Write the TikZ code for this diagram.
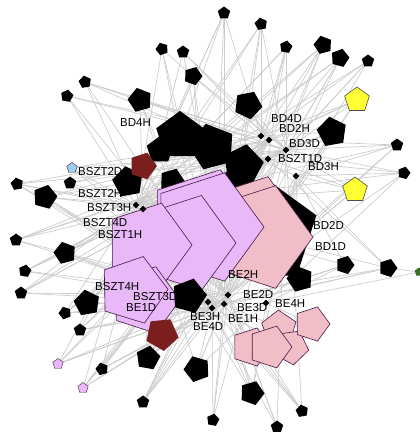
\documentclass[tikz,border=0pt]{standalone}
\usepackage{fontspec}
\setmainfont{Liberation Sans}
\usetikzlibrary{shapes.geometric}

\pgfdeclarelayer{edgelayer}
\pgfsetlayers{edgelayer,main}

\begin{document}
\begin{tikzpicture}[x=1pt, y=-1pt,
  pent/.style={regular polygon, regular polygon sides=5, inner sep=0pt, outer sep=0pt, minimum size=#1},
  blk/.style={pent=#1, fill=black},
  vio/.style={pent=#1, fill=violetcolor, draw=outlinecolor, line width=0.6pt},
  pnk/.style={pent=#1, fill=pinkcolor, draw=outlinecolor, line width=0.6pt},
  dred/.style={pent=#1, fill=darkredcolor},
  yel/.style={pent=#1, fill=yellowcolor, draw=black!70, line width=0.6pt},
  hub/.style={diamond, fill=black, inner sep=0pt, minimum size=7pt},
  lbl/.style={font=\fontsize{11.5}{12}\selectfont, inner sep=0pt, anchor=west},
  link/.style={draw=edgecolor, line width=0.7pt}]

%colours
\definecolor{violetcolor}{RGB}{232,184,248}
\definecolor{pinkcolor}{RGB}{241,189,199}
\definecolor{outlinecolor}{RGB}{70,25,70}
\definecolor{darkredcolor}{RGB}{122,30,30}
\definecolor{yellowcolor}{RGB}{255,255,51}
\definecolor{bluecolor}{RGB}{160,205,235}
\definecolor{greencolor}{RGB}{60,110,40}
\definecolor{edgecolor}{RGB}{204,204,204}

\useasboundingbox (0,0) rectangle (420,432);

%outer nodes
\foreach \n/\x/\y/\s/\r in {p1/224/13/13/0, p2/261/24/13/10, p3/286/47/13/-10, p4/323/45/19/15,
  p5/340/58/19/-15, p6/368/61/13/0, p7/162/49/13/20, p8/183/52/13/0, p9/193/76/19/-20,
  p10/85/82/13/10, p11/67/96/13/-10, p12/140/100/25/15, p13/248/105/29/-25, p14/332/132/31/10,
  p15/397/145/13/0, p16/404/173/13/-15, p17/17/184/13/10, p18/70/183/13/0, p19/45/197/25/-15,
  p20/16/240/13/0, p21/65/253/23/15, p22/25/271/13/-10, p23/21/293/13/0, p24/87/303/27/10,
  p25/65/313/13/20, p26/80/330/13/0, p27/148/358/25/-10, p28/102/369/13/15, p29/143/402/13/0,
  p30/197/369/27/20, p31/213/420/13/-10, p32/252/393/25/-20, p33/302/411/13/10, p34/277/427/13/0,
  p35/345/265/19/-90, p36/388/268/19/-90, p37/300/279/27/15}
  \node[blk=\s, shape border rotate=\r] (\n) at (\x,\y) {};
\node[yel=26] (ye1) at (357,100) {};
\node[yel=26] (ye2) at (355,190) {};
\node[pent=11, fill=bluecolor, draw=outlinecolor, line width=0.4pt] (bl1) at (72,168) {};
\node[vio=11, line width=0.4pt] (vs1) at (58,364) {};
\node[vio=11, line width=0.4pt] (vs2) at (83,388) {};
\node[pent=9, fill=greencolor] (gr1) at (419,272) {};

%central black nodes
\foreach \n/\x/\y/\s/\r in {blA/180/136/50/0, blB/212/147/48/15, blC/243/165/42/-10,
  blD/160/150/28/0, blE/128/182/32/10, blF/172/181/26/-20, blG/232/186/36/0,
  blI/265/232/108/0}
  \node[blk=\s, shape border rotate=\r] (\n) at (\x,\y) {};
\node[dred=28, shape border rotate=-90] (dr1) at (143,166) {};

%pink nodes
\node[pnk=110, shape border rotate=-90] (pkB) at (251,229) {};
\node[pnk=108, shape border rotate=-90] (pkA) at (259,237) {};
\node[pnk=40, shape border rotate=-90] (pkC) at (251,347) {};
\node[pnk=36, shape border rotate=-70] (pkE) at (279,328) {};
\node[pnk=36, shape border rotate=-100] (pkG) at (291,347) {};
\node[pnk=36, shape border rotate=-90] (pkF) at (312,324) {};
\node[pnk=44, shape border rotate=-90] (pkD) at (270,347) {};

%violet nodes
\node[vio=112, shape border rotate=-90] (vtA) at (203,223) {};
\node[vio=114, shape border rotate=-90] (vtB) at (207,227) {};
\node[vio=100, shape border rotate=-90] (vtC) at (186,243) {};
\node[vio=88, shape border rotate=-90] (vtD) at (148,245) {};
\node[vio=70, shape border rotate=-90] (vtE) at (145,300) {};
\node[vio=70, shape border rotate=-89] (vtF) at (133,290) {};
\node[blk=36, shape border rotate=-15] (blH) at (189,296) {};
\node[dred=34, shape border rotate=-30] (dr2) at (162,334) {};

%hubs
\node[hub] (bdfourd) at (261,136) {};
\node[hub] (bdtwoh) at (269,140) {};
\node[hub] (bdthreed) at (286,150) {};
\node[hub] (bsztoned) at (268,159) {};
\node[hub] (bdthreeh) at (296,176) {};
\node[hub] (bsztthreeh) at (136,205) {};
\node[hub] (bszttwoh) at (143,209) {};
\node[hub] (betwod) at (228,295) {};
\node[hub] (bethreed) at (224,304) {};
\node[hub] (befourh) at (266,303) {};
\node[hub] (bethreeh) at (208,302) {};
\node[hub] (beoneh) at (212,308) {};

%edges
\begin{pgfonlayer}{edgelayer}
\foreach \a/\b in {p1/bsztthreeh, p1/bdfourd, p1/blA, p2/bdfourd, p2/bdthreed, p2/bszttwoh,
  p3/bdfourd, p3/bsztoned, p3/bsztthreeh, p4/bdfourd, p4/bdtwoh, p4/bszttwoh, p5/bdtwoh,
  p5/bdthreed, p5/blB, p6/bdfourd, p6/bdthreed, p7/bdfourd, p7/bsztthreeh, p8/bdtwoh,
  p8/bszttwoh, p9/bdthreed, p9/bsztthreeh, p10/bdfourd, p10/bszttwoh, p10/bdthreeh,
  p11/bdtwoh, p11/bsztthreeh, p12/bdfourd, p12/bdthreed, p12/bszttwoh, p13/bdtwoh,
  p13/bsztthreeh, p14/bdfourd, p14/bdthreed, p14/bsztoned, p14/bszttwoh, p15/bdthreed,
  p15/bdthreeh, p15/bdtwoh, p16/bdthreeh, p16/bsztoned, p16/befourh, ye1/bdfourd,
  ye1/bdtwoh, ye1/bdthreed, ye2/bdthreeh, ye2/bsztoned, ye2/betwod, p17/bsztthreeh,
  p17/bszttwoh, p18/bsztthreeh, p18/bdfourd, p19/bsztthreeh, p19/bszttwoh, p19/bethreeh,
  bl1/bsztthreeh, bl1/bdfourd, p20/bszttwoh, p20/bethreeh, p21/bsztthreeh, p21/beoneh,
  p22/bszttwoh, p22/bethreeh, p23/bethreed, p23/bsztthreeh, p24/bethreeh, p24/bszttwoh,
  p25/beoneh, p25/bsztthreeh, p26/bethreeh, p26/bszttwoh, vs1/bszttwoh, vs1/bethreeh,
  vs2/bsztthreeh, vs2/beoneh, p27/bethreeh, p27/betwod, p27/bsztthreeh, p28/bethreed,
  p28/bszttwoh, p29/beoneh, p29/bethreeh, p30/betwod, p30/befourh, p30/bszttwoh,
  p31/bethreed, p31/beoneh, p32/befourh, p32/betwod, p32/bdthreeh, p33/bethreed,
  p33/beoneh, p34/betwod, p34/bethreeh, p35/bdthreeh, p35/befourh, p35/bethreed,
  p36/bdthreeh, p36/betwod, p36/gr1, p36/bsztoned, gr1/befourh, p37/bdthreeh,
  pkC/betwod, pkD/befourh, pkE/bethreed, pkF/befourh, pkG/beoneh,
  bsztthreeh/betwod, bszttwoh/bethreeh, bdfourd/bethreed, bsztoned/beoneh,
  bsztthreeh/bdthreed, bszttwoh/bdtwoh, bdthreeh/betwod, bsztoned/bsztthreeh,
  dr1/bdtwoh, dr1/betwod, dr2/befourh, blE/bdthreed, blH/bdfourd}
  \draw[link] (\a) -- (\b);
% dense fans round the hubs
\foreach \a in {p1,p2,p4,p7,p9,p12,p14,p15,p17,p19,p21,p24,p26,p28,p30,p32,p35,p36,ye1,vs1}{
  \draw[link] (\a) -- (beoneh);
  \draw[link] (\a) -- (bethreed);
}
\foreach \a in {p3,p5,p6,p8,p10,p11,p13,p16,p18,p20,p22,p23,p25,p27,p29,p31,p33,p34,ye2,vs2,bl1}{
  \draw[link] (\a) -- (betwod);
  \draw[link] (\a) -- (bdthreed);
}
\foreach \a in {p17,p19,p20,p21,p22,p23,p24,p25,p26,p27,p28,p29,vs1,vs2}{
  \draw[link] (\a) -- (bsztoned);
  \draw[link] (\a) -- (bdtwoh);
}
\foreach \a in {p1,p2,p3,p4,p5,p6,p14,p15,p16,ye1,ye2,p35,p36,p32,p33}{
  \draw[link] (\a) -- (bsztthreeh);
}
\end{pgfonlayer}

%labels
\node[lbl] (lbdfourh) at (120,123) {BD4H};
\node[lbl] (lbdfourd) at (271,119) {BD4D};
\node[lbl] (lbdtwoh) at (279,128) {BD2H};
\node[lbl] (lbdthreed) at (289,144) {BD3D};
\node[lbl] (lbsztoned) at (278,159) {BSZT1D};
\node[lbl] (lbdthreeh) at (308,167) {BD3H};
\node[lbl] (lbszttwod) at (78,172) {BSZT2D};
\node[lbl] (lbszttwoh) at (78,194) {BSZT2H};
\node[lbl] (lbsztthreeh) at (87,208) {BSZT3H};
\node[lbl] (lbsztfourd) at (83,223) {BSZT4D};
\node[lbl] (lbsztoneh) at (98,235) {BSZT1H};
\node[lbl] (lbdtwod) at (313,225) {BD2D};
\node[lbl] (lbdoned) at (315,247) {BD1D};
\node[lbl] (lbsztfourh) at (95,287) {BSZT4H};
\node[lbl] (lbsztthreed) at (133,297) {BSZT3D};
\node[lbl] (lbeoned) at (126,308) {BE1D};
\node[lbl] (lbetwoh) at (228,274) {BE2H};
\node[lbl] (lbetwod) at (243,294) {BE2D};
\node[lbl] (lbefourh) at (275,304) {BE4H};
\node[lbl] (lbethreed) at (237,308) {BE3D};
\node[lbl] (lbethreeh) at (190,317) {BE3H};
\node[lbl] (lbeoneh) at (228,319) {BE1H};
\node[lbl] (lbefourd) at (193,327) {BE4D};
\end{tikzpicture}
\end{document}
